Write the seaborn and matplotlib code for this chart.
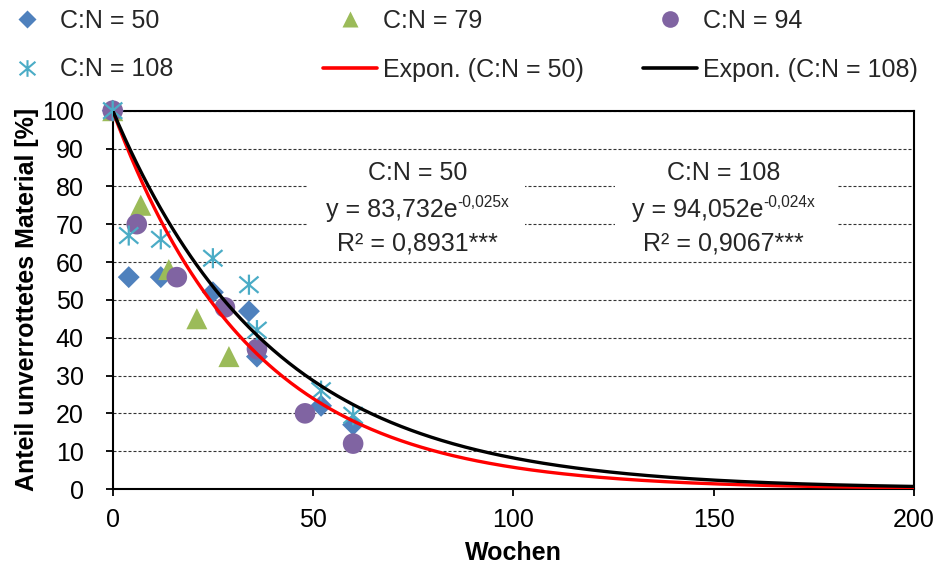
import numpy as np
import pandas as pd
import matplotlib
matplotlib.use("Agg")
import matplotlib.pyplot as plt
import seaborn as sns
from matplotlib.path import Path
from matplotlib.lines import Line2D
from matplotlib.patches import Rectangle

# ---------------- data ----------------
cn50_weeks = [0, 4, 12, 25, 34, 36, 52, 60]
cn50_values = [100, 56, 56, 52, 47, 35, 22, 17]

cn79_weeks = [0, 7, 14, 21, 29]
cn79_values = [100, 75, 58, 45, 35]

cn94_weeks = [0, 6, 16, 28, 36, 48, 60]
cn94_values = [100, 70, 56, 48, 37, 20, 12]

cn108_weeks = [0, 4, 12, 25, 34, 36, 52, 60]
cn108_values = [100, 67, 66, 61, 54, 42, 26, 19.5]

# trend curves as drawn (start value, decay rate per week)
trend50_start, trend50_rate = 100.0, 0.0286
trend108_start, trend108_rate = 100.0, 0.025

x_ticks = [0, 50, 100, 150, 200]
y_ticks = [0, 10, 20, 30, 40, 50, 60, 70, 80, 90, 100]

series_labels = ["C:N = 50", "C:N = 79", "C:N = 94", "C:N = 108"]
trend_labels = ["Expon. (C:N = 50)", "Expon. (C:N = 108)"]

# ---------------- style ----------------
sns.set_theme(style="white")
plt.rcParams["font.family"] = ["Liberation Sans", "DejaVu Sans"]
plt.rcParams["axes.unicode_minus"] = False

FS = 18
c_blue = "#4F81BD"
c_green = "#9BBB59"
c_purple = "#8064A2"
c_cyan = "#4BACC6"

star_path = Path(
    [(-1, -0.85), (1, 0.85), (-1, 0.85), (1, -0.85), (0, -1.05), (0, 1.05)],
    [Path.MOVETO, Path.LINETO, Path.MOVETO, Path.LINETO, Path.MOVETO, Path.LINETO],
)

fig = plt.figure(figsize=(9.37, 5.72), dpi=100)
ax = fig.add_axes([0.1203, 0.1451, 0.8552, 0.6614])

# trend lines
xs = np.linspace(0, 200, 401)
df_t50 = pd.DataFrame({"x": xs, "y": trend50_start * np.exp(-trend50_rate * xs)})
df_t108 = pd.DataFrame({"x": xs, "y": trend108_start * np.exp(-trend108_rate * xs)})

# scatter series
sns.scatterplot(x=cn50_weeks, y=cn50_values, ax=ax, marker="D", s=125,
                color=c_blue, edgecolor="none", linewidth=0, zorder=3, clip_on=False)
sns.scatterplot(x=cn79_weeks, y=cn79_values, ax=ax, marker="^", s=230,
                color=c_green, edgecolor="none", linewidth=0, zorder=3, clip_on=False)
sns.scatterplot(x=cn94_weeks, y=cn94_values, ax=ax, marker="o", s=220,
                color=c_purple, edgecolor="none", linewidth=0, zorder=3, clip_on=False)
ax.scatter(cn108_weeks, cn108_values, marker=star_path, s=210, facecolors="none",
           edgecolors=c_cyan, linewidths=1.6, zorder=3, clip_on=False)

sns.lineplot(data=df_t50, x="x", y="y", ax=ax, color="#FF0000", lw=2.4, zorder=4)
sns.lineplot(data=df_t108, x="x", y="y", ax=ax, color="black", lw=2.4, zorder=4)

# axes
ax.set_xlim(0, 200)
ax.set_ylim(0, 100)
ax.set_xticks(x_ticks)
ax.set_yticks(y_ticks)
ax.set_xticklabels([str(v) for v in x_ticks])
ax.set_yticklabels([str(v) for v in y_ticks])
ax.yaxis.grid(True, linestyle=(0, (2.7, 1.8)), color="#333333", lw=0.8)
ax.xaxis.grid(False)
for sp in ax.spines.values():
    sp.set_visible(True)
    sp.set_color("black")
    sp.set_linewidth(1.5)
ax.tick_params(axis="x", bottom=True, direction="out", length=5, width=1.3,
               color="black", labelsize=FS, pad=9, labelcolor="black")
ax.tick_params(axis="y", left=True, direction="out", length=5, width=1.3,
               color="black", labelsize=FS, pad=16, labelcolor="black")
ax.set_xlabel("Wochen", fontsize=FS, fontweight="bold", labelpad=6, color="black")
ax.set_ylabel("Anteil unverrottetes Material [%]", fontsize=FS, fontweight="bold",
              color="black")
ax.yaxis.set_label_coords(-0.092, 0.5)

# equation boxes
ax.add_patch(Rectangle((48.7, 62), 54.3, 26.3, facecolor="white", edgecolor="none", zorder=1))
ax.add_patch(Rectangle((125.3, 62), 55.4, 26.3, facecolor="white", edgecolor="none", zorder=1))
eq_boxes = [
    (76.0, "C:N = 50", "y = 83,732e", "-0,025x", "R² = 0,8931***"),
    (152.5, "C:N = 108", "y = 94,052e", "-0,024x", "R² = 0,9067***"),
]
fig.canvas.draw()
renderer = fig.canvas.get_renderer()
for xc, l1, base, sup, l3 in eq_boxes:
    ax.text(xc, 83.6, l1, ha="center", va="center", fontsize=FS, zorder=5)
    ax.text(xc, 64.8, l3, ha="center", va="center", fontsize=FS, zorder=5)
    t_base = ax.text(0, 73.8, base, ha="left", va="center", fontsize=FS, zorder=5)
    t_sup = ax.text(0, 73.8, sup, ha="left", va="center", fontsize=FS * 0.62, zorder=5)
    wb = t_base.get_window_extent(renderer).width
    ws = t_sup.get_window_extent(renderer).width
    xc_disp = ax.transData.transform((xc, 73.8))
    left_disp = xc_disp[0] - (wb + ws) / 2
    inv = ax.transData.inverted()
    xb = inv.transform((left_disp, xc_disp[1]))[0]
    xs_sup, ys_sup = inv.transform((left_disp + wb, xc_disp[1] + 7))
    t_base.set_x(xb)
    t_sup.set_position((xs_sup, ys_sup))

# legend (three columns placed like the reference)
h50 = Line2D([], [], ls="none", marker="D", ms=9, color=c_blue, mec="none")
h79 = Line2D([], [], ls="none", marker="^", ms=12, color=c_green, mec="none")
h94 = Line2D([], [], ls="none", marker="o", ms=12, color=c_purple, mec="none")
h108 = Line2D([], [], ls="none", marker=star_path, ms=12, color=c_cyan, mfc="none", mew=1.5)
ht50 = Line2D([], [], color="#FF0000", lw=2.6)
ht108 = Line2D([], [], color="black", lw=2.6)

cols = [
    (0, [h50, h108], [series_labels[0], series_labels[3]]),
    (323, [h79, ht50], [series_labels[1], trend_labels[0]]),
    (643, [h94, ht108], [series_labels[2], trend_labels[1]]),
]
for xpix, hs, ls in cols:
    fig.legend(handles=hs, labels=ls, loc="upper left",
               bbox_to_anchor=(xpix / 937, 1 - 8.5 / 572), frameon=False,
               fontsize=FS, handlelength=2.15, handletextpad=0.25,
               labelspacing=1.0, borderpad=0, borderaxespad=0)

fig.savefig("out.png", dpi=100)
